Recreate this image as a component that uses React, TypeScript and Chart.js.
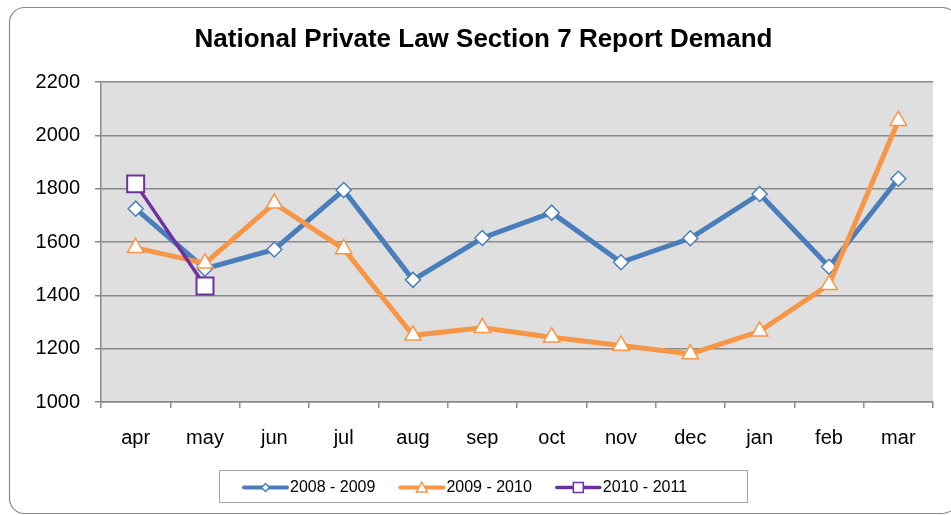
import React, { useEffect, useRef } from "react";
import { Chart, registerables } from "chart.js";

Chart.register(...registerables);

const categories = ["apr", "may", "jun", "jul", "aug", "sep", "oct", "nov", "dec", "jan", "feb", "mar"];
const series2008 = [1725, 1500, 1572, 1795, 1458, 1615, 1710, 1524, 1614, 1780, 1507, 1837];
const series2009 = [1578, 1520, 1745, 1574, 1250, 1278, 1243, 1212, 1180, 1265, 1440, 2055];
const series2010 = [1818, 1435, null, null, null, null, null, null, null, null, null, null];
const seriesNames = ["2008 - 2009", "2009 - 2010", "2010 - 2011"];
const yMin = 1000;
const yMax = 2200;
const yStep = 200;
const titleText = "National Private Law Section 7 Report Demand";

const FONT = "'Liberation Sans', Arial, sans-serif";
const BLUE = "#4A7EBB";
const ORANGE = "#F79646";
const PURPLE = "#7030A0";

function drawMarker(ctx: CanvasRenderingContext2D, style: string, x: number, y: number, r: number, color: string, bw: number) {
  ctx.save();
  ctx.beginPath();
  if (style === "diamond") {
    ctx.moveTo(x, y - r);
    ctx.lineTo(x + r, y);
    ctx.lineTo(x, y + r);
    ctx.lineTo(x - r, y);
    ctx.closePath();
  } else if (style === "triangle") {
    ctx.moveTo(x, y - r);
    ctx.lineTo(x + r, y + r * 0.8);
    ctx.lineTo(x - r, y + r * 0.8);
    ctx.closePath();
  } else {
    ctx.rect(x - r, y - r, 2 * r, 2 * r);
  }
  ctx.fillStyle = "#ffffff";
  ctx.fill();
  ctx.lineWidth = bw;
  ctx.strokeStyle = color;
  ctx.stroke();
  ctx.restore();
}

const framePlugin = {
  id: "framePlugin",
  beforeDraw(chart: any) {
    const { ctx, chartArea } = chart;
    ctx.save();
    ctx.fillStyle = "#ffffff";
    ctx.fillRect(0, 0, chart.width, chart.height);
    // outer rounded border
    const x = 9.5, y = 7.5, w = 948, h = 506, r = 15;
    ctx.beginPath();
    ctx.moveTo(x + r, y);
    ctx.lineTo(x + w - r, y);
    ctx.arcTo(x + w, y, x + w, y + r, r);
    ctx.lineTo(x + w, y + h - r);
    ctx.arcTo(x + w, y + h, x + w - r, y + h, r);
    ctx.lineTo(x + r, y + h);
    ctx.arcTo(x, y + h, x, y + h - r, r);
    ctx.lineTo(x, y + r);
    ctx.arcTo(x, y, x + r, y, r);
    ctx.closePath();
    ctx.lineWidth = 1.2;
    ctx.strokeStyle = "#8a8a8a";
    ctx.stroke();
    // plot background
    ctx.fillStyle = "#DFDFDF";
    ctx.fillRect(chartArea.left, chartArea.top, chartArea.right - chartArea.left, chartArea.bottom - chartArea.top);
    // title
    ctx.font = "bold 26px " + FONT;
    ctx.fillStyle = "#000000";
    ctx.textAlign = "center";
    ctx.textBaseline = "middle";
    ctx.fillText(titleText, 483.5, 39.5);
    ctx.restore();
  },
  afterDraw(chart: any) {
    const { ctx } = chart;
    const boxX = 219.5, boxY = 470.5, boxW = 528, boxH = 32;
    ctx.save();
    ctx.fillStyle = "#ffffff";
    ctx.fillRect(boxX, boxY, boxW, boxH);
    ctx.lineWidth = 1;
    ctx.strokeStyle = "#a6a6a6";
    ctx.strokeRect(boxX, boxY, boxW, boxH);
    ctx.font = "16px " + FONT;
    ctx.textBaseline = "middle";
    ctx.textAlign = "left";
    ctx.fillStyle = "#000000";
    const cy = boxY + boxH / 2 + 1;
    const lineLen = 43;
    const styles = ["diamond", "triangle", "square"];
    const sizes = [4, 5.5, 5];
    const widths = [4, 4, 3.5];
    let xPos = 244;
    chart.data.datasets
      .slice()
      .sort((a: any, b: any) => a.legendIndex - b.legendIndex)
      .forEach((ds: any, i: number) => {
        ctx.beginPath();
        ctx.moveTo(xPos, cy);
        ctx.lineTo(xPos + lineLen, cy);
        ctx.lineWidth = widths[i];
        ctx.strokeStyle = ds.borderColor;
        ctx.lineCap = "round";
        ctx.stroke();
        drawMarker(ctx, styles[i], xPos + lineLen / 2, cy, sizes[i], ds.borderColor, 1.5);
        const tx = xPos + lineLen + 3;
        ctx.fillStyle = "#000000";
        ctx.fillText(ds.label, tx, cy);
        xPos = tx + ctx.measureText(ds.label).width + 25;
      });
    ctx.restore();
  },
};

export default function App() {
  const ref = useRef<HTMLCanvasElement | null>(null);
  useEffect(() => {
    if (!ref.current) return;
    const chart = new Chart(ref.current, {
      type: "line",
      data: {
        labels: categories,
        datasets: [
          {
            label: seriesNames[0],
            legendIndex: 0,
            data: series2008,
            borderColor: BLUE,
            backgroundColor: BLUE,
            borderWidth: 5,
            pointStyle: "rectRot",
            pointRadius: 7.5,
            pointBorderWidth: 1.5,
            pointBackgroundColor: "#ffffff",
            pointBorderColor: BLUE,
            tension: 0,
            order: 2,
          } as any,
          {
            label: seriesNames[1],
            legendIndex: 1,
            data: series2009,
            borderColor: ORANGE,
            backgroundColor: ORANGE,
            borderWidth: 5,
            pointStyle: "triangle",
            pointRadius: 9.5,
            pointBorderWidth: 1.5,
            pointBackgroundColor: "#ffffff",
            pointBorderColor: ORANGE,
            tension: 0,
            order: 1,
          } as any,
          {
            label: seriesNames[2],
            legendIndex: 2,
            data: series2010,
            borderColor: PURPLE,
            backgroundColor: PURPLE,
            borderWidth: 3.5,
            pointStyle: "rect",
            pointRadius: 12,
            pointBorderWidth: 2,
            pointBackgroundColor: "#ffffff",
            pointBorderColor: PURPLE,
            tension: 0,
            spanGaps: false,
            order: 0,
          } as any,
        ],
      },
      options: {
        responsive: false,
        animation: false,
        devicePixelRatio: 1,
        layout: { padding: { left: 0, right: 18, top: 82, bottom: 0 } },
        plugins: {
          legend: { display: false },
          tooltip: { enabled: false },
          title: { display: false },
        },
        scales: {
          x: {
            offset: true,
            grid: {
              offset: true,
              drawOnChartArea: false,
              drawTicks: true,
              tickLength: 6,
              color: "#8a8a8a",
              lineWidth: 1.5,
            },
            border: { display: true, color: "#8a8a8a", width: 1.5 },
            ticks: {
              color: "#000000",
              font: { family: FONT, size: 20 },
              padding: 18,
              maxRotation: 0,
              autoSkip: false,
            },
            afterFit: (s: any) => {
              s.height = 113;
            },
          },
          y: {
            min: yMin,
            max: yMax,
            grid: {
              color: "#8a8a8a",
              lineWidth: 1.5,
              tickLength: 6,
              drawTicks: true,
            },
            border: { display: true, color: "#8a8a8a", width: 1.5 },
            ticks: {
              stepSize: yStep,
              color: "#000000",
              font: { family: FONT, size: 20 },
              padding: 15,
              callback: (v: any) => String(v),
            },
            afterFit: (s: any) => {
              s.width = 101;
            },
          },
        },
      },
      plugins: [framePlugin],
    } as any);
    return () => chart.destroy();
  }, []);
  return (
    <div style={{ position: "absolute", left: 0, top: 0, width: 951, height: 515 }}>
      <canvas ref={ref} width={951} height={515} style={{ display: "block" }} />
    </div>
  );
}
